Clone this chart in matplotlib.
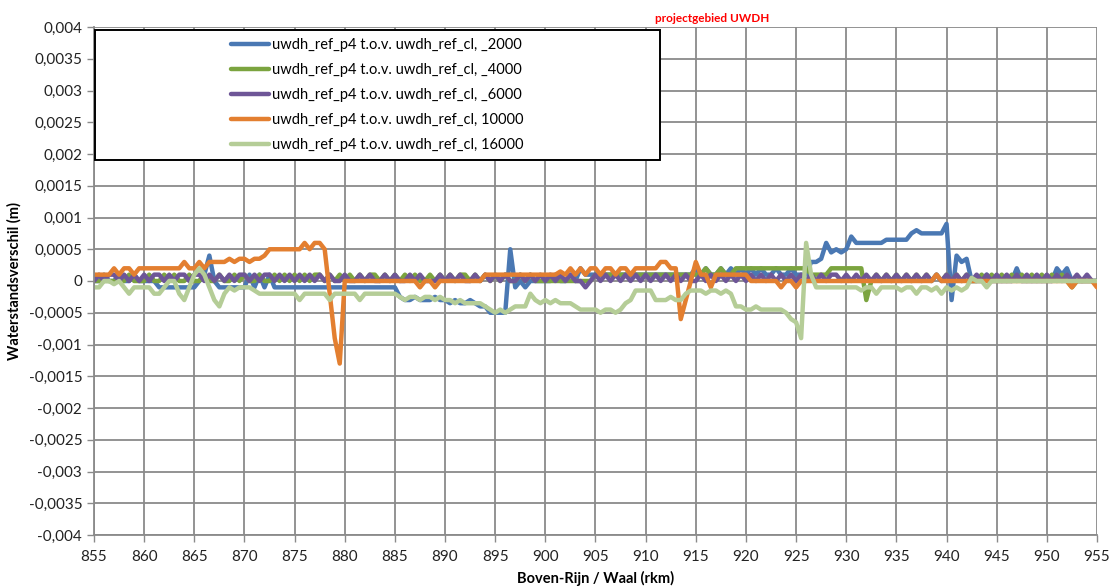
import matplotlib
matplotlib.use("Agg")
import matplotlib.pyplot as plt
from matplotlib.patches import Rectangle
from matplotlib.ticker import FuncFormatter, MultipleLocator
import numpy as np

plt.rcParams['font.family'] = ['Lato', 'DejaVu Sans']

# river km, sampled every 0.5 km
km = np.arange(855.0, 955.5, 0.5)

# waterlevel differences, in units of 1e-4 m (one row = 5 km)
blue_2000 = [
    0, 0, 1, 0, 0, 1, 0, 0, 1, 0,
    0, 0, 0, -1, -1, -1, -1, -1, -1, -1,
    -1, 0, 1, 4, 0, -1, -1, -1, -1, -1,
    -1, 1, -1, 1, -1, 1, -1, -1, -1, -1,
    -1, -1, -1, -1, -1, -1, -1, -1, -1, -1,
    -1, -1, -1, -1, -1, -1, -1, -1, -1, -1,
    -1, -2.5, -3, -3, -2.5, -3, -3, -3, -2.5, -3,
    -3, -3.5, -3, -3.5, -3.5, -3, -3.5, -4, -4, -5,
    -5, -5, -5, 5, -1, 0, -1, 0, 0, 0,
    0, 0, 1, 0, 0, 1, 0, 2, 1, 1,
    1, 1, 1, 1, 1, 1, 1, 1, 1, 1,
    1, 1, 1, 1, 1, 1, 1, 1, 1, 1,
    2, 1, 2, 1, 1, 2, 1, 2, 1, 2,
    1, 2, 1, 2, 1, 1, 2, 1, 1, 2,
    1, 1, 1, 3, 3, 3.5, 6, 4.5, 5, 4.5,
    5, 7, 6, 6, 6, 6, 6, 6, 6.5, 6.5,
    6.5, 6.5, 6.5, 7.5, 8, 7.5, 7.5, 7.5, 7.5, 7.5,
    9, -3, 4, 3, 3.5, 0, 0, 0, 1, 0,
    0, 0, 0, 0, 2, 0, 0, 0, 0, 0,
    0, 0, 2, 1, 2, 0, 0, 0, 0, 0,
    0]
green_4000 = [
    0, 0, 0, 0, 0, 0, 0, 1, 0, 0,
    0, 1, 0, 0, 1, 0, 1, 0, 0, 1,
    0, 0, 1, 0, 0, 1, 0, 0, 1, 0,
    1, 0, 0, 1, 0, 0, 1, 0, 1, 0,
    1, 0, 1, 0, 1, 1, 0, 1, 0, 1,
    0, 1, 0, 1, 0, 1, 1, 0, 1, 0,
    1, 0, 1, 0, 1, 0, 0, 1, 0, 1,
    0, 1, 0, 1, 1, 0, 1, 0, 1, 0,
    1, 0, 1, 0, 0, 1, 0, 1, 0, 0,
    0, 0, 0, 0, 0, 0, 0, 0, 0, 0,
    1, 1, 1, 1, 1, 1, 1, 1, 1, 1,
    1, 1, 1, 1, 1, 1, 1, 1, 1, 1,
    1, 1, 2, 1, 1, 2, 1, 1, 2, 2,
    2, 2, 2, 2, 2, 2, 2, 2, 2, 2,
    2, 2, 2, 1, 1, 1, 1, 2, 2, 2,
    2, 2, 2, 2, -3, 0, 1, 0, 1, 0,
    1, 0, 1, 0, 1, 0, 1, 0, 1, 0,
    1, 0, 1, 0, 1, 0, 0, 1, 0, 1,
    0, 1, 0, 1, 0, 1, 0, 1, 0, 1,
    0, 1, 0, 1, 0, -1, 0, 0, 0, 0,
    0]
purple_6000 = [
    0, 1, 0, 1, 1, 0, 1, 0, 1, 0,
    1, 0, 1, 1, 0, 1, 0, 1, 1, 0,
    1, 1, 0, 1, 0, 1, 0, 1, 0, 1,
    1, 0, 1, 0, 1, 1, 0, 1, 0, 1,
    0, 1, 0, 1, 0, 1, 0, 1, 0, 0,
    1, 0, 0, 1, 0, 1, 0, 0, 1, 0,
    1, 0, 0, 1, 0, 1, 0, 0, 0, 1,
    0, 1, 0, 1, 0, 0, 1, 0, 1, 0,
    1, 0, 1, 0, 0, 1, 0, 1, 0, 1,
    0, 1, 0, 1, 0, 1, 0, 0, -1, 0,
    1, 0, 1, 0, 1, 0, 1, 0, 1, 0,
    1, 0, 1, 0, 1, 0, 1, 0, 1, 0,
    0, 1, 0, 1, 0, 1, 0, 1, 0, 1,
    0, 1, 0, 1, 0, 1, 0, 1, 0, 1,
    0, 1, 0, 1, 0, 1, 0, 1, 1, 0,
    1, 0, 1, 0, 1, 0, 1, 0, 1, 0,
    1, 0, 1, 0, 1, 0, 1, 0, 1, 0,
    1, 0, 1, 0, 1, 0, 1, 0, 1, 0,
    1, 0, 1, 0, 1, 0, 1, 0, 1, 0,
    1, 0, 1, 0, 1, 0, 1, 0, 1, 0,
    0]
orange_10000 = [
    1, 1, 1, 1, 2, 1, 2, 2, 1, 2,
    2, 2, 2, 2, 2, 2, 2, 2, 3, 2,
    2, 3, 2, 3, 3, 3, 3, 3.5, 3, 3.5,
    3.5, 3, 3.5, 3.5, 4, 5, 5, 5, 5, 5,
    5, 5, 6, 5, 6, 6, 5, -2, -9, -13,
    0, 0, 0, 0, 0, 0, 0, 0, 0, 0,
    0, 0, 0, 0, 0, -1, 0, 0, -1, 0,
    0, 0, 0, 0, 0, 0, 0, 0, 1, 1,
    1, 1, 1, 1, 1, 1, 1, 1, 1, 1,
    1, 1, 1, 1.5, 1, 2, 1, 2, 1, 2,
    2, 1, 2, 2, 1, 2, 2, 1, 2, 2,
    2, 2, 2, 3, 3, 2, 2, -6, -3, 0,
    3, 1, 1, -1, 1, 1, 1, 1, 1, 1,
    1, 0, 0, 0, 0, 0, 0, -1, 0, 0,
    -1, 0, 0, 0, 0, 0, 0, 0, 0, 0,
    0, 0, 0, 0, 0, 0, 0, 0, 0, 0,
    0, 0, 0, 0, 0, 0, 0, 0, 1, 0,
    0, 0, 0, 0, 0, 0, 0, 0, 0, 0,
    0, 0, 0, 0, 0, 0, 0, 0, 0, 0,
    0, 0, 0, 0, 0, -1, 0, 0, 0, 0,
    -1]
lightgreen_16000 = [
    -1, -1, 0, 0, -0.5, 0, -1, -2, -1, -1,
    -1, -1, -2, -2, -1, 0, 0, -2, -3, -1,
    1, 2, 1, -1, -3, -4, -2, -1, -1.5, -1,
    -1, -1, -1.5, -2, -2, -2, -2, -2, -2, -2,
    -2, -3, -2, -2, -2, -2, -2, -3, -2, -2,
    -2, -2, -2, -3, -2, -2, -2, -2, -2, -2,
    -2, -2.5, -3, -2.5, -2.5, -3, -2.5, -2.5, -3, -2.5,
    -3, -3, -3.5, -3, -3.5, -3.5, -3.5, -3.5, -4, -4.5,
    -5, -4.5, -5, -4.5, -4, -4, -4, -2, -3, -3.5,
    -3, -3.5, -3, -3.5, -3.5, -3.5, -4, -4.5, -4.5, -4.5,
    -4.5, -5, -4.5, -4.5, -5, -4.5, -3.5, -3, -1.5, -1.5,
    -1.5, -1.5, -3, -3, -3, -2.5, -3, -3, -2, -1.5,
    -1.5, -1.5, -2, -1.5, -1.5, -2, -1.5, -2, -4, -4,
    -4.5, -4.5, -4, -4.5, -4.5, -4.5, -4.5, -4.5, -5, -6,
    -6.5, -9, 6, 1, -1, -1, -1, -1, -1, -1,
    -1, -1, -1, -1.5, -1, -1, -2, -1, -1, -1,
    -1, -1.5, -1, -1, -2, -1, -1, -1.5, -1, -2,
    -1, -1.5, -1, -1.5, -1, 0.5, 0, 0, -1, 0,
    0, 0, 0, 0, 0, 0, 0, 0, 0, 0,
    0, 0, 0, 0, 0, 0, 0, 0, 0, 0,
    0]

series = [
    ("uwdh_ref_p4 t.o.v. uwdh_ref_cl, _2000", blue_2000, "#4a78b3"),
    ("uwdh_ref_p4 t.o.v. uwdh_ref_cl, _4000", green_4000, "#7ba43f"),
    ("uwdh_ref_p4 t.o.v. uwdh_ref_cl, _6000", purple_6000, "#6e5697"),
    ("uwdh_ref_p4 t.o.v. uwdh_ref_cl, 10000", orange_10000, "#e37f30"),
    ("uwdh_ref_p4 t.o.v. uwdh_ref_cl, 16000", lightgreen_16000, "#b5cd97"),
]

fig = plt.figure(figsize=(11.09, 5.88), dpi=100)
ax = fig.add_axes([94 / 1109, 53 / 588, 1003 / 1109, 508 / 588])

for label, vals, col in series:
    ax.plot(km, np.array(vals) * 1e-4, color=col, lw=3.2, label=label,
            solid_joinstyle='round', solid_capstyle='round')

ax.set_xlim(855, 955)
ax.set_ylim(-0.004, 0.004)
ax.xaxis.set_major_locator(MultipleLocator(5))
ax.yaxis.set_major_locator(MultipleLocator(0.0005))


def comma_fmt(v, pos):
    v = round(v, 6)
    if v == 0:
        return "0"
    return ("%g" % v).replace(".", ",")


ax.yaxis.set_major_formatter(FuncFormatter(comma_fmt))
ax.grid(True, color="#8a8a8a", lw=1.3)
ax.set_axisbelow(True)
for side in ("top", "right"):
    ax.spines[side].set_visible(False)
for side in ("left", "bottom"):
    ax.spines[side].set_color("#8a8a8a")
    ax.spines[side].set_linewidth(1.3)
ax.tick_params(direction="out", length=5, width=1.0, color="#8a8a8a",
               labelsize=11, labelcolor="#222222")
ax.tick_params(axis="x", pad=6)

ax.set_xlabel("Boven-Rijn / Waal (rkm)", fontsize=10.5, fontweight="bold",
              labelpad=5)
ax.set_ylabel("Waterstandsverschil (m)", fontsize=10.5, fontweight="bold",
              labelpad=5)

# big legend box like the spreadsheet one
box = Rectangle((0.001, 0.738), 0.563, 0.256, transform=ax.transAxes,
                facecolor="white", edgecolor="black", lw=1.4, zorder=4)
ax.add_patch(box)
leg = ax.legend(loc="center", bbox_to_anchor=(0.2825, 0.866), frameon=False,
                fontsize=10.5, handlelength=2.6, handletextpad=0.2,
                labelspacing=0.75)
leg.set_zorder(5)

fig.text(0.642, 0.969, "projectgebied UWDH", color="red", fontsize=8.5,
         fontweight="bold", ha="center", va="center")

fig.savefig("out.png", dpi=100)
